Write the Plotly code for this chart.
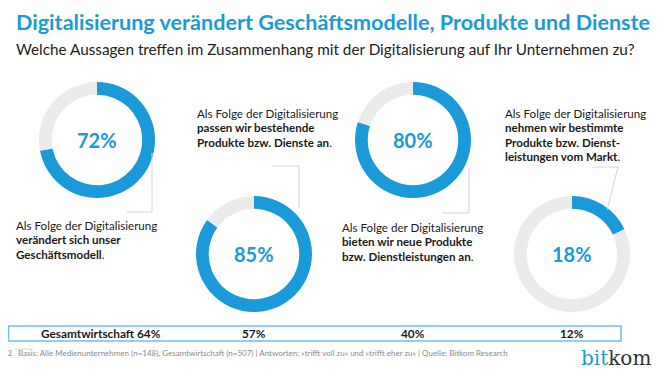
import plotly.graph_objects as go

# The page body has an 8px margin; the figure fills the rest of the 664x377 window.
OFF = 8
W, H = 664 - 2 * OFF, 377 - 2 * OFF

# Data
statements = [
    "verändert sich unser Geschäftsmodell",
    "passen wir bestehende Produkte bzw. Dienste an",
    "bieten wir neue Produkte bzw. Dienstleistungen an",
    "nehmen wir bestimmte Produkte bzw. Dienstleistungen vom Markt",
]
medien_values = [72, 85, 80, 18]
gesamt_values = [64, 57, 40, 12]

BLUE = "#1a9ad8"
GRAY = "#ebebeb"
FONT = "Lato"

def px(x):
    return (x - OFF) / W

def py(y):
    return 1 - (y - OFF) / H

centers = [(97, 140), (254, 254), (413, 140), (572, 254)]
R = 58

fig = go.Figure()
for (cx, cy), v in zip(centers, medien_values):
    fig.add_trace(go.Pie(
        values=[v, 100 - v],
        labels=["ja", "rest"],
        hole=0.78,
        sort=False,
        direction="clockwise",
        rotation=0,
        marker=dict(colors=[BLUE, GRAY], line=dict(width=0)),
        textinfo="none",
        hoverinfo="skip",
        showlegend=False,
        domain=dict(x=[px(cx - R), px(cx + R)], y=[py(cy + R), py(cy - R)]),
    ))

annotations = []

def ann(x, y, text, size, color="#1a1a1a", xanchor="left", yanchor="middle", family=FONT):
    annotations.append(dict(x=px(x), y=py(y), xref="paper", yref="paper", text=text,
                            showarrow=False, xanchor=xanchor, yanchor=yanchor,
                            font=dict(family=family, size=size, color=color)))

# center percentages
for (cx, cy), v in zip(centers, medien_values):
    ann(cx, cy, f"<b>{v}%</b>", 20, BLUE, xanchor="center")

# title/subtitle
ann(14, 22.5, "<b>Digitalisierung verändert Geschäftsmodelle, Produkte und Dienste</b>", 21.6, BLUE)
ann(14, 49, "Welche Aussagen treffen im Zusammenhang mit der Digitalisierung auf Ihr Unternehmen zu?", 15.3, "#222222")

labels = [
    (14, 225, ["Als Folge der Digitalisierung", "<b>verändert sich unser</b>", "<b>Geschäftsmodell</b>."]),
    (195, 113, ["Als Folge der Digitalisierung", "<b>passen wir bestehende</b>", "<b>Produkte bzw. Dienste an</b>."]),
    (340, 227, ["Als Folge der Digitalisierung", "<b>bieten wir neue Produkte</b>", "<b>bzw. Dienstleistungen an</b>."]),
    (503, 113, ["Als Folge der Digitalisierung", "<b>nehmen wir bestimmte</b>", "<b>Produkte bzw. Dienst-</b>", "<b>leistungen vom Markt</b>."]),
]
for x, y, lines in labels:
    for i, t in enumerate(lines):
        ann(x, y + i * 14.5, t, 11.6)

# Gesamtwirtschaft row
row_x = [101, 254, 413, 572]
for i, (x, v) in enumerate(zip(row_x, gesamt_values)):
    t = f"<b>Gesamtwirtschaft {v}%</b>" if i == 0 else f"<b>{v}%</b>"
    ann(x, 333.5, t, 11.8, xanchor="center")

# footnote
ann(6, 353, "2", 7, "#888888")
ann(16, 353, "Basis: Alle Medienunternehmen (n=148), Gesamtwirtschaft (n=507) | Antworten: »trifft voll zu« und »trifft eher zu« | Quelle: Bitkom Research",
    8, "#8a8a8a")
# logo
ann(653, 357.5, "<span style='color:#1a9ad8'>bit</span>kom", 20, "#333333", xanchor="right", family="DejaVu Serif")

LINE = dict(color="#d4d4d4", width=1)
shapes = []
def seg(x0, y0, x1, y1):
    shapes.append(dict(type="line", xref="paper", yref="paper",
                       x0=px(x0), y0=py(y0), x1=px(x1), y1=py(y1), line=LINE))

seg(152, 153, 152, 212); seg(152, 212, 127, 212)
seg(272, 166, 299, 166); seg(299, 166, 299, 208)
seg(469, 168, 469, 213); seg(469, 213, 442, 213)
seg(592, 167, 618, 167); seg(618, 167, 607, 210)
seg(15, 349, 33, 349)

shapes.append(dict(type="rect", xref="paper", yref="paper",
                   x0=px(8.5), y0=py(341), x1=px(621), y1=py(326),
                   line=dict(color="#6cc0e8", width=1.5), fillcolor="rgba(0,0,0,0)"))

fig.update_layout(
    width=W, height=H,
    margin=dict(l=0, r=0, t=0, b=0),
    paper_bgcolor="white", plot_bgcolor="white",
    annotations=annotations, shapes=shapes,
    showlegend=False,
)
fig.write_html("out.html")
